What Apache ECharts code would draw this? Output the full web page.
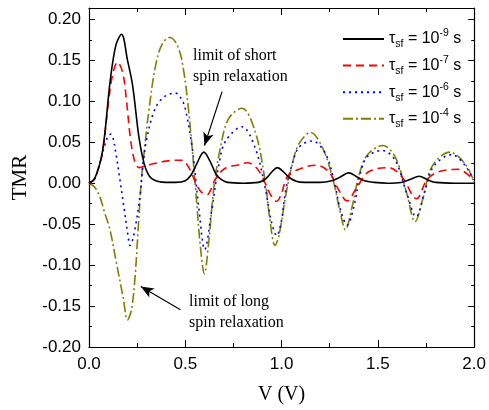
<!DOCTYPE html>
<html><head><meta charset="utf-8">
<script src="https://cdn.jsdelivr.net/npm/echarts@6/dist/echarts.min.js"></script>
<style>html,body{margin:0;padding:0;background:#fff}#c{width:489px;height:410px}</style>
</head><body><div id="c"></div>
<script>
// ---- data ----
const legendExps = ['-9', '-7', '-6', '-4'];
const xTickValues = [0, 0.5, 1.0, 1.5, 2.0];
const yTickValues = [-0.2, -0.15, -0.1, -0.05, 0, 0.05, 0.1, 0.15, 0.2];

const v9 = [0,0.03,0.07,0.11,0.14,0.169,0.2,0.226,0.26,0.286,0.31,0.33,0.36,0.4,0.45,0.5,0.53,0.56,0.596,0.63,0.66,0.69,0.72,0.8,0.88,0.92,0.95,0.978,1.01,1.04,1.08,1.12,1.2,1.26,1.3,1.349,1.39,1.43,1.48,1.55,1.62,1.67,1.714,1.76,1.8,1.9,2.0];
const tmr9 = [0,0.006,0.039,0.125,0.169,0.182,0.150,0.12,0.055,0.024,0.010,0.005,0.002,0.001,0.001,0.003,0.010,0.024,0.038,0.026,0.011,0.004,0.001,0.000,0.001,0.006,0.014,0.019,0.014,0.007,0.002,0.001,0.001,0.003,0.007,0.0126,0.008,0.003,0.001,0.000,0.001,0.005,0.0085,0.004,0.001,0.000,0.000];

const v7 = [0,0.03,0.07,0.097,0.122,0.148,0.175,0.195,0.215,0.238,0.26,0.29,0.34,0.40,0.45,0.487,0.505,0.53,0.553,0.58,0.60,0.615,0.63,0.65,0.68,0.72,0.77,0.82,0.86,0.895,0.915,0.945,0.975,1.0,1.03,1.09,1.177,1.245,1.297,1.34,1.392,1.452,1.556,1.624,1.701,1.754,1.814,1.917,1.995];
const tmr7 = [0,0.006,0.038,0.091,0.132,0.148,0.135,0.100,0.055,0.026,0.019,0.021,0.024,0.027,0.028,0.028,0.024,0.014,0.001,-0.010,-0.013,-0.014,-0.009,0.002,0.013,0.020,0.022,0.025,0.021,0.010,0.000,-0.015,-0.022,-0.012,0.008,0.017,0.022,0.014,-0.0085,-0.0215,-0.0045,0.014,0.019,0.008,-0.019,0.004,0.014,0.017,0.004];

const v6 = [0,0.03,0.053,0.08,0.1,0.114,0.126,0.14,0.157,0.183,0.205,0.212,0.225,0.238,0.264,0.281,0.298,0.33,0.36,0.40,0.45,0.48,0.5,0.536,0.57,0.601,0.639,0.674,0.708,0.794,0.863,0.915,0.945,0.975,1.0,1.021,1.056,1.09,1.159,1.228,1.271,1.306,1.34,1.375,1.409,1.443,1.521,1.59,1.65,1.698,1.745,1.788,1.883,1.952,1.995];
const tmr6 = [0,0.006,0.022,0.045,0.058,0.060,0.054,0.036,0.010,-0.032,-0.068,-0.076,-0.070,-0.057,-0.017,0.024,0.052,0.083,0.098,0.107,0.110,0.103,0.091,0.043,-0.030,-0.081,-0.030,0.022,0.051,0.069,0.043,-0.006,-0.045,-0.064,-0.045,-0.009,0.024,0.044,0.0516,0.036,0.004,-0.033,-0.051,-0.029,0.012,0.032,0.040,0.028,-0.0126,-0.041,-0.0085,0.020,0.035,0.022,0.004];

const v4 = [0,0.03,0.057,0.08,0.109,0.143,0.177,0.2,0.22,0.238,0.255,0.272,0.29,0.312,0.346,0.38,0.42,0.455,0.484,0.518,0.553,0.579,0.599,0.622,0.648,0.682,0.725,0.794,0.863,0.915,0.94,0.966,0.987,1.02,1.056,1.09,1.15,1.211,1.263,1.306,1.331,1.366,1.40,1.443,1.526,1.59,1.65,1.693,1.736,1.78,1.874,1.952,2.0];
const tmr4 = [0,-0.005,-0.017,-0.035,-0.057,-0.098,-0.139,-0.1667,-0.155,-0.118,-0.057,0.004,0.046,0.091,0.144,0.170,0.178,0.170,0.148,0.087,-0.006,-0.079,-0.1106,-0.071,-0.006,0.043,0.079,0.0915,0.063,0.002,-0.046,-0.076,-0.063,-0.017,0.024,0.048,0.062,0.044,0.008,-0.037,-0.057,-0.029,0.008,0.034,0.046,0.032,-0.0126,-0.047,-0.0167,0.020,0.038,0.024,0.0016];

// annotation arrows (data coordinates: [V, TMR])
const arrowShortFrom = [0.691, 0.1118], arrowShortTo = [0.5995, 0.046];
const arrowLongFrom = [0.475, -0.1545], arrowLongTo = [0.269, -0.126];

function zip(a, b) { return a.map((x, i) => [x, b[i]]); }

const chart = echarts.init(document.getElementById('c'), null, {renderer: 'canvas'});
const sans = '"Liberation Sans", Arial, Helvetica, sans-serif';
const serif = '"Liberation Serif", "Times New Roman", serif';

function isMultiple(v, step) { return Math.abs(v / step - Math.round(v / step)) < 1e-6; }

const commonX = {
  type: 'value', min: 0, max: 2, interval: 0.5,
  axisLine: {show: true, onZero: false, lineStyle: {color: '#000', width: 1.2}},
  axisTick: {show: true, inside: true, length: 7, lineStyle: {color: '#000', width: 1}},
  minorTick: {show: true, splitNumber: 2, length: 4, lineStyle: {color: '#000', width: 1}},
  splitLine: {show: false}
};
const commonY = {
  type: 'value', min: -0.2, max: 0.214, interval: 0.05,
  axisLine: {show: true, onZero: false, lineStyle: {color: '#000', width: 1.2}},
  axisTick: {show: true, inside: true, length: 6, lineStyle: {color: '#000', width: 1}},
  minorTick: {show: true, splitNumber: 2, length: 3, lineStyle: {color: '#000', width: 1}},
  splitLine: {show: false}
};

const colors = ['#000000', '#ff0000', '#0000ff', '#808000'];
const dashes = ['solid', [8, 5], [2, 4], [10, 3, 2, 3]];
const datasets = [zip(v9, tmr9), zip(v7, tmr7), zip(v6, tmr6), zip(v4, tmr4)];

const series = legendExps.map((e, i) => ({
  name: e, type: 'line', data: datasets[i], showSymbol: false, symbol: 'none',
  smooth: 0.35, xAxisIndex: 0, yAxisIndex: 0,
  lineStyle: {color: colors[i], width: 1.6, type: dashes[i]},
  itemStyle: {color: colors[i]}, z: 10 - i
}));
series[0].markLine = {
  silent: true, symbol: ['none', 'arrow'], symbolSize: [8, 13], animation: false,
  label: {show: false},
  lineStyle: {color: '#000', width: 1.2, type: 'solid'},
  data: [
    [{coord: arrowShortFrom}, {coord: arrowShortTo}],
    [{coord: arrowLongFrom}, {coord: arrowLongTo}]
  ]
};

chart.setOption({
  animation: false,
  backgroundColor: '#fff',
  grid: {left: 89, right: 13, top: 8, bottom: 62, containLabel: false},
  xAxis: [
    Object.assign({}, commonX, {
      position: 'bottom',
      axisLabel: {show: true, margin: 9, color: '#000', fontSize: 17, fontFamily: sans,
        formatter: v => isMultiple(v, 0.5) ? v.toFixed(1) : ''},
      name: 'V (V)', nameLocation: 'middle', nameGap: 38,
      nameTextStyle: {fontFamily: serif, fontSize: 20, color: '#000'}
    }),
    Object.assign({}, commonX, {position: 'top', axisLabel: {show: false}})
  ],
  yAxis: [
    Object.assign({}, commonY, {
      position: 'left',
      axisLabel: {show: true, margin: 8, color: '#000', fontSize: 17, fontFamily: sans,
        formatter: v => isMultiple(v, 0.05) ? v.toFixed(2) : ''},
      name: 'TMR', nameLocation: 'middle', nameGap: 56, nameRotate: 90,
      nameTextStyle: {fontFamily: serif, fontSize: 21, color: '#000'}
    }),
    Object.assign({}, commonY, {position: 'right', axisLabel: {show: false}})
  ],
  legend: {
    orient: 'vertical', left: 342, top: 28, padding: 0, itemWidth: 41, itemHeight: 14, itemGap: 4.6,
    data: legendExps,
    itemStyle: {color: 'rgba(0,0,0,0)', borderWidth: 0, opacity: 0},
    formatter: name => '{t|τ}{sub|sf}{n| = 10}{sup|' + name + '}{n| s}',
    textStyle: {
      color: '#000', fontFamily: sans, fontSize: 16, padding: [0, 0, 0, 0],
      rich: {
        t: {fontSize: 16, fontFamily: sans, lineHeight: 22, color: '#000'},
        n: {fontSize: 16, fontFamily: sans, lineHeight: 22, color: '#000'},
        sub: {fontSize: 10.5, fontFamily: sans, lineHeight: 12, verticalAlign: 'bottom', color: '#000'},
        sup: {fontSize: 10.5, fontFamily: sans, lineHeight: 12, verticalAlign: 'top', color: '#000'}
      }
    }
  },
  graphic: [
    {type: 'text', left: 193, top: 45, silent: true,
      style: {text: 'limit of short\nspin relaxation', font: '16px ' + serif, fill: '#000', lineHeight: 21}},
    {type: 'text', left: 189, top: 291, silent: true,
      style: {text: 'limit of long\nspin relaxation', font: '16px ' + serif, fill: '#000', lineHeight: 21}}
  ],
  series: series
});
</script></body></html>
